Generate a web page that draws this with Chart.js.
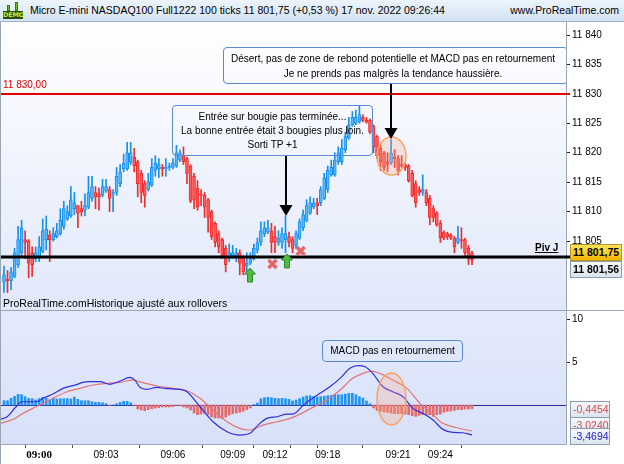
<!DOCTYPE html>
<html>
<head>
<meta charset="utf-8">
<script src="https://cdn.jsdelivr.net/npm/chart.js@4/dist/chart.umd.min.js"></script>
<style>
  html, body { margin: 0; padding: 0; background: #fff; }
  body { width: 624px; height: 464px; position: relative; overflow: hidden; font-family: 'Liberation Sans', Arial, sans-serif; color: #000; }
  #title { position: absolute; left: 0; top: 0; width: 624px; height: 22px; box-sizing: border-box;
    background: linear-gradient(#edf4fb, #d3e3f2); border-bottom: 1px solid #9db2c6; font-size: 10.5px; line-height: 21px; }
  #title .main { position: absolute; left: 30px; top: 0; white-space: nowrap; }
  #title .site { position: absolute; right: 5px; top: 0; white-space: nowrap; }
  #demo { position: absolute; left: 3px; top: 2px; width: 20px; height: 17px; }
  #demo .c { position: absolute; width: 3px; background: #6fbf1f; border: 1px solid #3d7a0c; box-sizing: border-box; }
  #demo .lbl { position: absolute; left: 0; bottom: 0; width: 20px; height: 8px; background: #2c4a0c; color: #b8f040;
    font: bold 6.5px 'DejaVu Sans', sans-serif; line-height: 8px; text-align: center; letter-spacing: -0.2px; }
  .wrap { position: absolute; left: 0; width: 624px; }
  #pwrap { top: 22px; height: 288px; }
  #mwrap { top: 310px; height: 154px; border-top: 1px solid #9aa6b2; box-sizing: border-box; }
  .clip { position: absolute; left: 0; width: 566px; overflow: hidden; pointer-events: none; }
  #pclip { top: 22px; height: 288px; }
  #mclip { top: 311px; height: 133px; }
  .box { position: absolute; border: 1px solid #5b89d6; border-radius: 4px; box-sizing: border-box;
    text-align: center; font-size: 10px; white-space: nowrap; }
  .lab { position: absolute; font-size: 10px; white-space: nowrap; }
  .vbox { position: absolute; box-sizing: border-box; border: 1px solid #8c9db0; font-size: 10.5px;
    line-height: 15px; padding-left: 2px; white-space: nowrap; background: linear-gradient(#f6f9fd, #dbe4ef); }
  #leftedge { position: absolute; left: 0; top: 22px; width: 1px; height: 442px; background: #9aa6b2; }
  svg { position: absolute; left: 0; top: 0; }
</style>
</head>
<body>
<div id="title">
  <div id="demo"><span class="c" style="left:4px;top:3px;height:6px"></span><span class="c" style="left:12px;top:0;height:9px"></span><div class="lbl">DEMO</div></div>
  <span class="main">Micro E-mini NASDAQ100 Full1222 100 ticks 11 801,75 (+0,53 %) 17 nov. 2022 09:26:44</span>
  <span class="site">www.ProRealTime.com</span>
</div>

<div class="wrap" id="pwrap"><canvas id="price" width="624" height="288"></canvas></div>
<div class="wrap" id="mwrap"><canvas id="macd" width="624" height="153"></canvas></div>
<div id="leftedge"></div>

<svg width="566" height="464" viewBox="0 0 566 464">
  <ellipse cx="391.5" cy="156" rx="14.5" ry="19" fill="rgba(250,170,130,0.28)" stroke="#f7a465" stroke-width="1.5"/>
  <ellipse cx="391.5" cy="399" rx="14.5" ry="26" fill="rgba(250,170,130,0.28)" stroke="#f7a465" stroke-width="1.5"/>
  <line x1="286" y1="155" x2="286" y2="206" stroke="#000" stroke-width="2"/>
  <polygon points="279.5,205 292.5,205 286,216" fill="#000"/>
  <line x1="391" y1="83" x2="391" y2="129" stroke="#000" stroke-width="2"/>
  <polygon points="384.5,128 397.5,128 391,139" fill="#000"/>
</svg>

<div class="clip" id="pclip">
  <div class="lab" style="left:3px;top:57px;color:#e00000">11 830,00</div>
  <div class="lab" style="left:535px;top:220px;font-weight:bold;text-decoration:underline">Piv J</div>
  <div class="box" style="left:172px;top:83px;width:201px;height:51px;padding-top:4px;line-height:14px">
    Entrée sur bougie pas terminée...<br>La bonne entrée était 3 bougies plus loin.<br>Sorti TP +1</div>
  <div class="box" style="left:223px;top:25px;width:345px;height:37px;padding-top:3px;line-height:15px;padding-right:5px">
    Désert, pas de zone de rebond potentielle et MACD pas en retournement<br>Je ne prends pas malgrès la tendance haussière.</div>
  <div class="lab" style="left:3px;top:275px;font-size:10.5px">ProRealTime.comHistorique ajusté aux rollovers</div>
</div>

<div class="clip" id="mclip">
  <div class="box" style="left:322px;top:29px;width:141px;height:22px;line-height:20px">MACD pas en retournement</div>
</div>

<div class="vbox" style="left:570px;top:244px;width:52px;height:17px;font-weight:bold;background:linear-gradient(#ffe35a,#f2b600);border-color:#b8952a">11 801,75</div>
<div class="vbox" style="left:570px;top:261px;width:52px;height:17px;font-weight:bold">11 801,56</div>
<div class="vbox" style="left:570px;top:401px;width:40px;height:17px;color:#d94848">-0,4454</div>
<div class="vbox" style="left:570px;top:417px;width:40px;height:17px;color:#d94848">-3,0240</div>
<div class="vbox" style="left:570px;top:428px;width:40px;height:17px;color:#2323c8">-3,4694</div>

<script>
// --- price candles (100 ticks each) ---
const opens = [11798,11798.5,11798.25,11799,11801,11803,11805.25,11805,11803,11802,
  11802.25,11803.25,11805.25,11806,11805.25,11805.75,11806.25,11807.5,11808.75,11809.25,
  11810.5,11811,11810.5,11810.25,11810.75,11812.25,11813.25,11813,11812.75,11813.5,
  11813.75,11813,11813.25,11814.75,11817.25,11817.25,11818.5,11819.25,11818.5,11816.5,
  11814.75,11813.75,11814.5,11817,11817.25,11817.5,11817.25,11817.5,11817.5,11817.75,
  11818.75,11819.5,11819,11817.75,11816,11814,11813,11812.75,11812,11810,
  11808,11806.25,11805.25,11803.75,11802,11802.5,11802.5,11803,11802,11800.75,
  11801.25,11802,11803.5,11804.75,11806.25,11806.5,11806.75,11805.75,11804.75,11804.75,
  11805.25,11805.75,11805.25,11804.25,11805.5,11807.25,11808.5,11809.75,11810.75,11811.5,
  11811.5,11812.25,11813.75,11816.25,11816.25,11818.5,11818.5,11820.5,11822.5,11824.75,
  11825,11825.25,11826,11825.5,11825.5,11824.5,11822.75,11820.75,11820,11818.5,
  11818.25,11819.25,11819,11818,11818,11817.75,11816.5,11814.75,11813.75,11813.25,
  11813.25,11812.25,11810.5,11809.75,11808,11806.5,11806.25,11806,11805.5,11804.75,
  11805.25,11805.25,11803.75,11803];
const highs = [11800.75,11800,11800.5,11803.75,11807.5,11808.5,11806.75,11805.25,11804,11804,
  11805.75,11808.75,11809.25,11806.75,11807.25,11808,11810.5,11811.75,11811,11814.25,
  11813.25,11811,11811.75,11813,11816,11816,11814.25,11814,11815.5,11815.5,
  11814.25,11813.75,11817.5,11818,11819.75,11821.75,11821.75,11820.75,11818.75,11817,
  11815.25,11816.5,11819,11819.5,11819,11818,11819,11818.25,11819,11821.25,
  11820.5,11821,11819.25,11818,11816.5,11815.25,11813.75,11813.25,11812.25,11810.25,
  11808.25,11806.75,11805.5,11804.25,11804.5,11804.25,11803.75,11803.5,11802.5,11803,
  11803,11804.5,11805.5,11808.25,11808.25,11808.5,11808,11807.5,11806.75,11807.25,
  11809.25,11806.5,11805.75,11806.75,11808.75,11810.25,11812,11812.5,11812.25,11812.25,
  11814.25,11816.5,11817.75,11818.75,11820,11821,11822.25,11823.5,11826,11827,
  11827.25,11828,11826.5,11826,11825.75,11824.75,11823,11821.25,11820.25,11820,
  11822.25,11820.5,11819.5,11819.5,11818.25,11818,11817,11815.25,11814.25,11816.25,
  11813.75,11812.75,11811,11810,11808.5,11806.75,11806.5,11806.25,11805.75,11807.5,
  11807.25,11805.5,11804.25,11803.25];
const lows = [11796.25,11796.25,11796.75,11798.75,11800.5,11802.5,11802,11798.75,11799,11801.5,
  11801.5,11803,11803.5,11801.5,11805,11805.5,11806,11807,11808.5,11809,
  11809.5,11807.25,11809.25,11809.25,11810.5,11811.75,11810.5,11810.25,11812.5,11813.25,
  11810,11810,11812.75,11814.25,11816.75,11817,11818,11816.75,11812.5,11811.5,
  11810.75,11813.5,11814.25,11816,11815.75,11816,11816,11817,11817.25,11817.5,
  11818.5,11818,11814.75,11811.5,11810.5,11810.25,11811,11809,11806.5,11805.25,
  11804,11803,11802,11799.75,11801.5,11802,11801.5,11799.25,11799.25,11799.5,
  11801,11801.75,11803,11804.25,11805.75,11806.25,11803,11803,11804.25,11803.75,
  11803,11804,11803,11803.75,11805.25,11806.75,11808.25,11809.5,11810.5,11809.5,
  11811,11812,11813.25,11816,11816,11818,11818,11820,11822.25,11824.5,
  11824.75,11825,11825.25,11825,11823.25,11820,11819,11817,11817,11816.75,
  11818,11817.5,11816.25,11817.5,11817,11815,11812.5,11810.75,11812.75,11812.75,
  11811,11807.75,11808.25,11807.5,11804.75,11805.25,11805.25,11805.25,11803,11804.5,
  11803.75,11802.5,11801,11801];
const closes = [11799.25,11798.25,11799.75,11803,11805.25,11807.25,11804.75,11801.25,11801,11803,
  11804,11806.75,11807,11805.25,11806.25,11806.75,11808.5,11810.5,11810,11812,
  11811.5,11809.75,11810,11811,11813.25,11814.25,11812.5,11812.5,11814.25,11814.25,
  11812.25,11813.25,11816,11816.75,11818.25,11820,11820,11817.75,11814.75,11813.25,
  11812.75,11815,11817.5,11818.25,11818,11817.25,11817.5,11817.75,11818.25,11820,
  11820,11818.5,11816.5,11811.75,11812,11810.75,11812.75,11810.75,11809,11805.75,
  11804.75,11804,11802.5,11801,11803,11803,11803,11801.25,11799.75,11801.25,
  11802,11803.75,11804.75,11806.75,11807.25,11807.25,11804.75,11804.75,11805.5,11806.25,
  11806.25,11804.75,11803.75,11806.25,11808.25,11809.5,11811,11811.5,11811.5,11811,
  11813.75,11815.75,11817,11817.5,11818.75,11820,11820.75,11822.75,11824.75,11826,
  11826,11826.5,11825.5,11825.25,11823.5,11821,11819.5,11818.5,11817.5,11818,
  11820,11819,11817,11817.75,11817.5,11815.25,11812.75,11811.5,11813.25,11813.75,
  11811.5,11809,11809,11807.75,11805.5,11805.5,11805.75,11805.5,11804,11805.5,
  11805,11803,11802,11801.75];

// --- MACD panel ---
const histo = [0.50,0.50,0.78,1.0,1.24,1.2,0.97,0.78,0.74,0.58,
  0.74,0.89,0.78,0.62,0.81,0.70,0.74,0.74,0.74,0.70,
  0.93,0.66,0.50,0.50,0.50,0.39,0.31,0.31,0.27,0.16,
  -0.04,0.02,0.16,0.31,0.43,0.43,0.27,-0.04,-0.47,-0.58,
  -0.66,-0.54,-0.43,-0.35,-0.31,-0.23,-0.23,-0.23,-0.19,-0.04,
  -0.05,-0.23,-0.35,-0.58,-0.93,-1.12,-1.05,-0.97,-1.12,-1.36,
  -1.51,-1.51,-1.59,-1.40,-1.16,-1.01,-0.93,-0.85,-0.74,-0.54,
  -0.35,0.05,0.23,0.74,0.85,0.89,0.85,0.78,0.74,0.78,
  0.74,0.66,0.47,0.58,0.74,0.93,1.05,1.09,1.0,0.93,
  0.97,1.0,1.09,1.12,1.2,1.2,1.2,1.28,1.36,1.36,
  1.2,0.97,0.81,0.47,0.16,-0.35,-0.62,-0.74,-0.81,-0.85,
  -0.93,-1.01,-1.01,-1.01,-1.05,-1.12,-1.24,-1.32,-1.20,-1.12,
  -1.12,-1.12,-1.32,-1.12,-1.05,-0.85,-0.74,-0.70,-0.62,-0.54,
  -0.54,-0.47,-0.47,-0.45];
const macdX = [-1,0.9,3.1,5.1,7.4,9.4,11.1,13.9,16.8,19.6,23.9,27.3,30.1,33,35.8,37.2,38.6,40.6,43.5,46.3,
  50,52,55.7,59.4,63.4,67,69.9,72.2,74.7,77.6,80.4,82.1,84.9,86.9,89.8,92.6,95.5,98.3,100.6,102.6,
  104.8,107.7,110.5,113.4,116.2,119,121.9,124.7,127.6,130.4,133];
const macdY = [-1.65,-1.36,-0.35,0.38,0.38,0.38,0.78,1.28,1.94,2.25,2.71,2.71,2.41,2.79,3.22,2.9,2.06,1.83,2.06,1.9,
  1.83,1.55,-0.2,-1.94,-3.1,-3.49,-3.29,-2.33,-1.55,-1.36,-1.05,-1.05,-0.1,0.58,1.36,2.13,3.1,4.27,4.57,4.45,
  3.68,2.13,1.55,0.97,-0.39,-0.97,-1.74,-2.83,-3.18,-3.22,-3.47];
const signalX = [-1,2.6,5.4,8.2,11.1,13.9,17.9,21.6,25.3,29.3,33,36.6,39.5,43.5,48,52,55.7,59.4,63.4,67,
  69.9,73.6,77.6,81.3,84.9,87.8,91.8,95.5,99.1,102,104.5,106.8,110.5,114.5,118.2,121.9,124.7,128.7,133];
const signalY = [-2.13,-1.66,-0.97,-0.39,0.19,0.78,1.55,1.94,2.33,2.52,2.64,2.9,2.6,2.21,1.94,1.66,0.78,-0.58,-1.94,-2.71,
  -2.9,-2.33,-1.94,-1.55,-0.9,-0.27,0.58,1.74,3.1,3.68,3.95,3.68,2.9,1.94,0.19,-1.16,-2.13,-2.64,-3.02];

// --- axes, levels, trade marks ---
const priceTicks = [11805, 11810, 11815, 11820, 11825, 11830, 11835, 11840];
const macdTicks = [10, 5];
const timeTickIdx = [2, 10, 29, 48, 65, 77, 86, 92, 112, 124];
const timeLabels = ['', '09:00', '09:03', '09:06', '09:09', '09:12', '', '09:18', '09:21', '09:24'];
const levelRed = 11830;
const levelPivot = 11802.2;
const buyIdx = [69.9, 80.4];
const buyPrice = [11800.4, 11802.8];
const exitIdx = [76.3, 84.3];
const exitPrice = [11801.1, 11803.3];

const X_MIN = -1.137, X_MAX = 159.71;
const UP_FILL = '#5ab8fb', UP_LINE = '#1590ec', DN_FILL = '#ff5d5d', DN_LINE = '#ee2c2c';
const isUp = i => closes[i] >= opens[i];
const fmtPrice = v => String(v).replace(/(\d{2})(\d{3})$/, '$1 $2');
const tickFont = { family: "'Liberation Sans', Arial, sans-serif", size: 10 };

function rightAxisFit(s) { s.width = 58; s.paddingTop = 0; s.paddingBottom = 0; }

const panelBg = (top, bottom) => ({
  id: 'panelBg',
  beforeDraw(chart) {
    const { ctx, chartArea: a } = chart;
    const g = ctx.createLinearGradient(0, a.top, 0, a.bottom);
    g.addColorStop(0, top);
    g.addColorStop(1, bottom);
    ctx.save();
    ctx.fillStyle = g;
    ctx.fillRect(a.left, a.top, a.right - a.left, a.bottom - a.top);
    ctx.restore();
  },
});

const priceMarks = {
  id: 'priceMarks',
  beforeDatasetsDraw(chart) {
    const { ctx, chartArea: a, scales: { y } } = chart;
    const yr = Math.round(y.getPixelForValue(levelRed));
    ctx.save();
    ctx.fillStyle = '#e80000';
    ctx.fillRect(a.left, yr - 1, a.right - a.left + 4, 2);
    ctx.restore();
  },
  afterDatasetsDraw(chart) {
    const { ctx, chartArea: a, scales: { x, y } } = chart;
    ctx.save();
    const yp = Math.round(y.getPixelForValue(levelPivot));
    ctx.fillStyle = '#000';
    ctx.fillRect(a.left, yp - 1.5, a.right - a.left + 4, 3);

    // entries: green up arrows
    buyIdx.forEach((bi, k) => {
      const px = x.getPixelForValue(bi), py = y.getPixelForValue(buyPrice[k]);
      ctx.beginPath();
      ctx.moveTo(px, py);
      ctx.lineTo(px + 5.5, py + 6);
      ctx.lineTo(px + 2.5, py + 6);
      ctx.lineTo(px + 2.5, py + 14);
      ctx.lineTo(px - 2.5, py + 14);
      ctx.lineTo(px - 2.5, py + 6);
      ctx.lineTo(px - 5.5, py + 6);
      ctx.closePath();
      ctx.fillStyle = '#4cbc45';
      ctx.fill();
      ctx.strokeStyle = '#2f8a2a';
      ctx.lineWidth = 1;
      ctx.stroke();
    });
    // exits: red crosses
    exitIdx.forEach((ei, k) => {
      const px = x.getPixelForValue(ei), py = y.getPixelForValue(exitPrice[k]);
      ctx.strokeStyle = '#e56565';
      ctx.lineWidth = 3.5;
      ctx.beginPath();
      ctx.moveTo(px - 4, py - 4); ctx.lineTo(px + 4, py + 4);
      ctx.moveTo(px + 4, py - 4); ctx.lineTo(px - 4, py + 4);
      ctx.stroke();
    });
    ctx.restore();
  },
};

const idx = closes.map((_, i) => i);

new Chart(document.getElementById('price'), {
  type: 'bar',
  data: {
    datasets: [
      {
        data: idx.map(i => ({ x: i, y: [opens[i], closes[i]] })),
        backgroundColor: idx.map(i => isUp(i) ? UP_FILL : DN_FILL),
        borderColor: idx.map(i => isUp(i) ? UP_LINE : DN_LINE),
        borderWidth: 1,
        borderSkipped: false,
        barThickness: 3,
        minBarLength: 1,
        grouped: false,
        order: 0,
      },
      {
        data: idx.map(i => ({ x: i, y: [lows[i], highs[i]] })),
        backgroundColor: idx.map(i => isUp(i) ? UP_LINE : DN_LINE),
        borderWidth: 0,
        barThickness: 1,
        grouped: false,
        order: 1,
      },
    ],
  },
  options: {
    responsive: false,
    animation: false,
    events: [],
    layout: { padding: 0 },
    plugins: { legend: { display: false }, tooltip: { enabled: false } },
    scales: {
      x: { type: 'linear', min: X_MIN, max: X_MAX, offset: false, display: false },
      y: {
        position: 'right',
        min: 11793.28,
        max: 11842.21,
        afterFit: rightAxisFit,
        afterBuildTicks: s => { s.ticks = priceTicks.map(v => ({ value: v })); },
        ticks: { callback: v => fmtPrice(v), font: tickFont, color: '#000', padding: 2 },
        grid: { drawOnChartArea: false, tickLength: 4, color: '#222' },
        border: { color: '#9aa6b2' },
      },
    },
  },
  plugins: [panelBg('#ffffff', '#e1e8fa'), priceMarks],
});

const macdZero = {
  id: 'macdZero',
  beforeDatasetsDraw(chart) {
    const { ctx, chartArea: a, scales: { y } } = chart;
    const y0 = Math.round(y.getPixelForValue(0)) + 0.5;
    ctx.save();
    ctx.strokeStyle = '#2b2ba6';
    ctx.lineWidth = 1;
    ctx.beginPath();
    ctx.moveTo(a.left, y0);
    ctx.lineTo(a.right, y0);
    ctx.stroke();
    ctx.restore();
  },
};

new Chart(document.getElementById('macd'), {
  type: 'bar',
  data: {
    datasets: [
      {
        type: 'line',
        data: macdX.map((v, i) => ({ x: v, y: macdY[i] })),
        borderColor: '#2f2fe2',
        borderWidth: 1.2,
        pointRadius: 0,
        cubicInterpolationMode: 'monotone',
        order: 0,
      },
      {
        type: 'line',
        data: signalX.map((v, i) => ({ x: v, y: signalY[i] })),
        borderColor: '#e27676',
        borderWidth: 1.2,
        pointRadius: 0,
        cubicInterpolationMode: 'monotone',
        order: 1,
      },
      {
        data: histo.map((v, i) => ({ x: i, y: v })),
        backgroundColor: histo.map(v => v >= 0 ? '#2195f2' : '#e36a6a'),
        barThickness: 2,
        order: 2,
      },
    ],
  },
  options: {
    responsive: false,
    animation: false,
    events: [],
    layout: { padding: { top: 0 } },
    plugins: { legend: { display: false }, tooltip: { enabled: false } },
    scales: {
      x: {
        type: 'linear',
        min: X_MIN,
        max: X_MAX,
        offset: false,
        afterFit: s => { s.height = 20; s.paddingLeft = 0; s.paddingRight = 0; },
        afterBuildTicks: s => { s.ticks = timeTickIdx.map(v => ({ value: v })); },
        ticks: {
          autoSkip: false,
          maxRotation: 0,
          padding: 1,
          color: '#000',
          callback: v => timeLabels[timeTickIdx.indexOf(v)],
          font: c => (c.tick && c.tick.value === 10)
            ? { family: "'Liberation Serif', serif", size: 11, weight: 'bold' }
            : tickFont,
        },
        grid: { drawOnChartArea: false, tickLength: 4, color: '#555' },
        border: { color: '#9aa6b2' },
      },
      y: {
        position: 'right',
        min: -4.53,
        max: 10.93,
        afterFit: rightAxisFit,
        afterBuildTicks: s => { s.ticks = macdTicks.map(v => ({ value: v })); },
        ticks: { font: tickFont, color: '#000', padding: 2 },
        grid: { drawOnChartArea: false, tickLength: 4, color: '#222' },
        border: { color: '#9aa6b2' },
      },
    },
  },
  plugins: [panelBg('#e4eafc', '#d8e1f9'), macdZero],
});
</script>
</body>
</html>
